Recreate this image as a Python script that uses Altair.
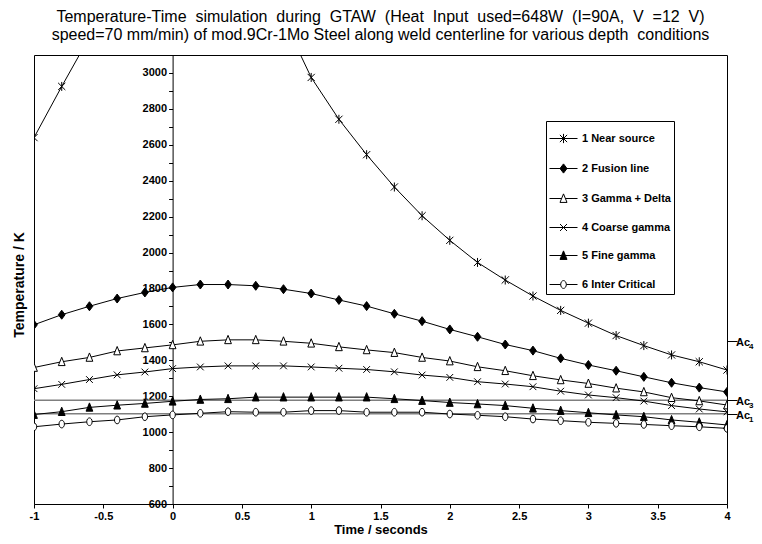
import altair as alt
import pandas as pd

# ---------------- data ----------------
time_s = [-1.0, -0.8, -0.6, -0.4, -0.2, 0.0, 0.2, 0.4, 0.6, 0.8, 1.0, 1.2, 1.4,
          1.6, 1.8, 2.0, 2.2, 2.4, 2.6, 2.8, 3.0, 3.2, 3.4, 3.6, 3.8, 4.0]

series_names = ["1 Near source", "2 Fusion line", "3 Gamma + Delta",
                "4 Coarse gamma", "5 Fine gamma", "6 Inter Critical"]

near_source = [2640, 2925, 3200, 3440, 3620, 3730, 3760, 3700, 3560, 3300, 2975, 2742, 2545,
               2365, 2205, 2068, 1945, 1847, 1758, 1678, 1607, 1538, 1482, 1430, 1392, 1346]
fusion_line = [1598, 1654, 1701, 1744, 1778, 1806, 1822, 1822, 1815, 1796, 1772, 1736, 1702,
               1659, 1618, 1572, 1531, 1488, 1454, 1411, 1374, 1342, 1308, 1275, 1248, 1224]
gamma_delta = [1360, 1392, 1416, 1452, 1469, 1486, 1506, 1514, 1514, 1506, 1495, 1475, 1458,
               1443, 1416, 1396, 1364, 1342, 1314, 1291, 1271, 1245, 1224, 1192, 1174, 1151]
coarse_gamma = [1242, 1266, 1293, 1319, 1335, 1354, 1363, 1369, 1369, 1369, 1363, 1356, 1349,
                1336, 1318, 1305, 1281, 1268, 1253, 1228, 1207, 1192, 1173, 1148, 1129, 1113]
fine_gamma = [1098, 1114, 1138, 1150, 1160, 1172, 1182, 1186, 1195, 1195, 1195, 1195, 1195,
              1186, 1176, 1165, 1157, 1148, 1133, 1120, 1108, 1096, 1086, 1068, 1055, 1040]
inter_critical = [1030, 1045, 1058, 1068, 1086, 1096, 1105, 1114, 1111, 1111, 1120, 1120, 1111,
                  1111, 1111, 1101, 1094, 1086, 1073, 1064, 1055, 1049, 1043, 1036, 1030, 1021]

ac_names = ["Ac", "Ac", "Ac"]
ac_subscripts = ["4", "3", "1"]
ac_values = [1505, 1178, 1102]
ac_has_line = [False, True, True]

x_tick_values = [-1, -0.5, 0, 0.5, 1, 1.5, 2, 2.5, 3, 3.5, 4]
y_tick_values = [600, 700, 800, 900, 1000, 1100, 1200, 1300, 1400, 1500, 1600, 1700, 1800,
                 1900, 2000, 2100, 2200, 2300, 2400, 2500, 2600, 2700, 2800, 2900, 3000, 3100]

GAP = "\u00a0 "
title_line1_words = ["Temperature-Time", "simulation", "during", "GTAW", "(Heat", "Input",
                     "used=648W", "(I=90A,", "V", "=12", "V)"]
title_lines = [
    GAP.join(title_line1_words),
    "speed=70 mm/min) of mod.9Cr-1Mo Steel along weld centerline for various depth\u00a0 conditions",
]

# ---------------- styling ----------------
W, H = 693, 449
FONT = "Liberation Sans"

marker_paths = [
    "M-0.8,-0.8L0.8,0.8M-0.8,0.8L0.8,-0.8M0,-1L0,1",
    "M0,-1L0.75,0L0,1L-0.75,0Z",
    "M0,-1L0.75,0.85L-0.75,0.85Z",
    "M-0.75,-0.75L0.75,0.75M-0.75,0.75L0.75,-0.75",
    "M0,-1L0.75,0.85L-0.75,0.85Z",
    "M0,-0.85A0.6,0.85 0 1,1 0,0.85A0.6,0.85 0 1,1 0,-0.85Z",
]
legend_paths = [
    "M-1,0L1,0M-0.26,-0.26L0.26,0.26M-0.26,0.26L0.26,-0.26M0,-0.33L0,0.33",
    "M-1,0L1,0M0,-0.33L0.25,0L0,0.33L-0.25,0Z",
    "M-1,0L-0.14,0M0.14,0L1,0M0,-0.33L0.25,0.28L-0.25,0.28Z",
    "M-1,0L1,0M-0.25,-0.25L0.25,0.25M-0.25,0.25L0.25,-0.25",
    "M-1,0L1,0M0,-0.33L0.25,0.28L-0.25,0.28Z",
    "M-1,0L-0.2,0M0.2,0L1,0M0,-0.28A0.2,0.28 0 1,1 0,0.28A0.2,0.28 0 1,1 0,-0.28Z",
]
fill_colors = ["black", "black", "white", "black", "black", "white"]
stroke_colors = ["black"] * 6

# ---------------- tables ----------------
all_series = [near_source, fusion_line, gamma_delta, coarse_gamma, fine_gamma, inter_critical]
rows = []
for name, vals in zip(series_names, all_series):
    for t, v in zip(time_s, vals):
        rows.append({"t": t, "T": v, "series": name})
df = pd.DataFrame(rows)

ac_df = pd.DataFrame({"name": ac_names, "sub": ac_subscripts, "v": ac_values, "line": ac_has_line})

xs = alt.Scale(domain=[-1, 4], nice=False, zero=False)
ys = alt.Scale(domain=[600, 3100], nice=False, zero=False)

x_axis = alt.Axis(values=x_tick_values, labelExpr="'' + datum.value", title="Time / seconds",
                  labelFontWeight="bold", labelFontSize=11, labelColor="black",
                  tickColor="black", domainColor="black", tickSize=4, labelPadding=2,
                  labelFlush=False, labelOverlap=False, grid=False,
                  titleFontSize=13, titleFontWeight="bold", titleColor="black", titlePadding=2)

y_axis = alt.Axis(values=y_tick_values,
                  labelExpr="datum.value % 200 == 0 ? '' + datum.value : ''",
                  offset=-W * 0.2, title="Temperature / K",
                  titleX=-146, titleY=H / 2 + 5,
                  labelFontWeight="bold", labelFontSize=11, labelColor="black",
                  tickColor="black", domainColor="black", tickSize=4, labelPadding=2,
                  labelFlush=False, labelOverlap=False, grid=False,
                  titleFontSize=14, titleFontWeight="bold", titleColor="black")

X = alt.X("t:Q", scale=xs, axis=x_axis)

ac_lines = alt.Chart(ac_df).transform_filter("datum.line").mark_rule(
    color="#7f7f7f", strokeWidth=1.5
).encode(
    y=alt.Y("v:Q", scale=ys,
            axis=alt.Axis(orient="right", values=ac_values, labels=False, tickSize=10,
                          tickColor="black", domain=False, grid=False, title=None))
)

lines = alt.Chart(df).mark_line(color="black", strokeWidth=1, clip=True).encode(
    x=X,
    y=alt.Y("T:Q", scale=ys, axis=y_axis),
    detail="series:N",
)

points = alt.Chart(df).mark_point(
    filled=True, stroke="black", strokeWidth=1, size=81, opacity=1, clip=True
).encode(
    x=X,
    y=alt.Y("T:Q", scale=ys, axis=None),
    shape=alt.Shape("series:N", scale=alt.Scale(domain=series_names, range=marker_paths), legend=None),
    fill=alt.Fill("series:N", scale=alt.Scale(domain=series_names, range=fill_colors), legend=None),
)

leg = alt.Legend(title=None, orient="none", legendX=512, legendY=66,
                 symbolSize=784, symbolStrokeWidth=1,
                 labelFont=FONT, labelFontWeight="bold", labelFontSize=11, labelColor="black",
                 labelOffset=4, rowPadding=8, padding=3,
                 strokeColor="black", fillColor="white")

legend_layer = alt.Chart(df).mark_point(
    filled=True, strokeWidth=1, size=0, opacity=1, clip=True
).encode(
    x=X,
    y=alt.Y("T:Q", scale=ys, axis=None),
    shape=alt.Shape("series:N", scale=alt.Scale(domain=series_names, range=legend_paths), legend=leg),
    fill=alt.Fill("series:N", scale=alt.Scale(domain=series_names, range=fill_colors), legend=leg),
    stroke=alt.Stroke("series:N", scale=alt.Scale(domain=series_names, range=stroke_colors), legend=leg),
)

ac_text = alt.Chart(ac_df).mark_text(
    align="left", baseline="middle", font=FONT, fontWeight="bold", fontSize=11,
    color="black", dx=9, dy=2
).encode(
    x=alt.XDatum(4, axis=x_axis),
    y=alt.Y("v:Q", scale=ys, axis=None),
    text="name:N",
)

ac_sub = alt.Chart(ac_df).mark_text(
    align="left", baseline="middle", font=FONT, fontWeight="bold", fontSize=8,
    color="black", dx=22, dy=6
).encode(
    x=alt.XDatum(4, axis=x_axis),
    y=alt.Y("v:Q", scale=ys, axis=None),
    text="sub:N",
)

chart = alt.layer(ac_lines, lines, points, legend_layer, ac_text, ac_sub).resolve_scale(
    shape="independent", fill="independent", stroke="independent"
).resolve_axis(
    y="independent"
).properties(
    width=W, height=H,
    padding={"left": 26, "top": 47, "right": 27, "bottom": 32},
    autosize=alt.AutoSizeParams(type="none"),
    title=alt.TitleParams(text=title_lines, fontSize=16, font=FONT, fontWeight="normal",
                          color="black", anchor="middle", offset=6, lineHeight=18),
).configure_axis(
    labelFont=FONT, titleFont=FONT
).configure_view(
    stroke="black", strokeWidth=1
)

chart.save("out.html", embed_options={"renderer": "svg", "actions": False})
